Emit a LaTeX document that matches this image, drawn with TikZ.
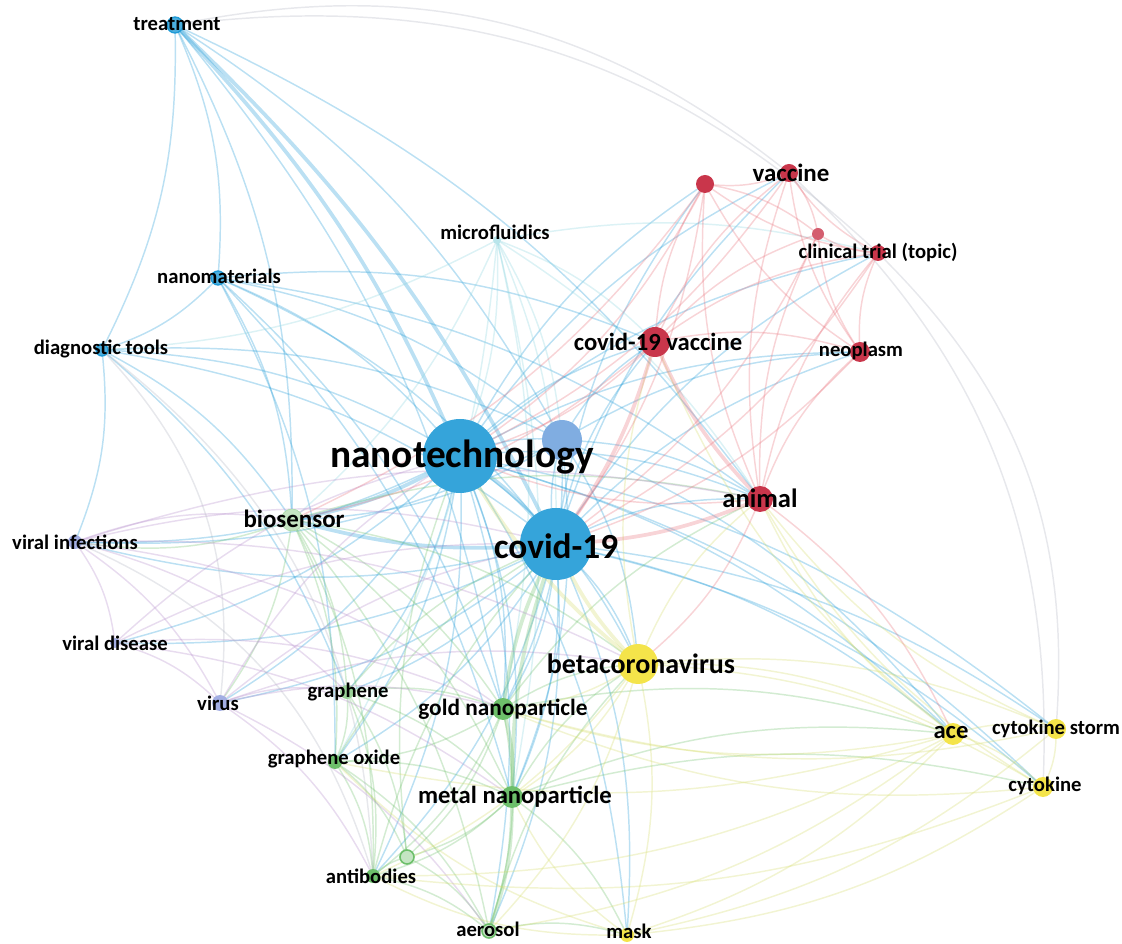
\documentclass[tikz,border=0pt]{standalone}
\usepackage{fontspec}
\setmainfont{Carlito}
\pgfdeclarelayer{bg}
\pgfsetlayers{bg,main}
\definecolor{cB}{HTML}{1E9AD6}
\definecolor{cLB}{HTML}{6A9FDC}
\definecolor{cCy}{HTML}{8AD4DE}
\definecolor{cG}{HTML}{6DBF6A}
\definecolor{cP}{HTML}{A3AEE3}
\definecolor{cPE}{HTML}{B48CCB}
\definecolor{cY}{HTML}{F4E44A}
\definecolor{cYE}{HTML}{D4DC6A}
\definecolor{cR}{HTML}{C9364B}
\definecolor{cRE}{HTML}{E8707A}
\definecolor{cGr}{HTML}{B0B4C0}
\tikzset{
  vdot/.style={circle, inner sep=0, minimum size={1.5*#1 pt}},
  lbl/.style={font=\bfseries\fontsize{#1}{#1}\selectfont, inner sep=0, text=black},
  lnk/.style={draw=#1, opacity=0.3, line width=1.1pt},
  thk/.style={draw=#1, opacity=0.3, line width=2.8pt},
}
\begin{document}
\begin{tikzpicture}[x=0.75pt,y=-0.75pt]
\useasboundingbox (0,0) rectangle (1122,944);
% nodes (circles)
\node[vdot=8, fill=cB!80, draw=cB, line width=1pt] (tr) at (175,25) {};
\node[vdot=7, fill=cB!80, draw=cB, line width=1pt] (nm) at (218,278) {};
\node[vdot=6, fill=cB!80, draw=cB, line width=1pt] (dt) at (102,350) {};
\node[vdot=4, fill=cCy!60] (mf) at (497,240) {};
\node[vdot=37, fill=cB!90] (nt) at (460,456) {};
\node[vdot=20, fill=cLB!85] (bx) at (562,440) {};
\node[vdot=36, fill=cB!90] (cv) at (556,544) {};
\node[vdot=11, fill=cG!40, draw=cG!60] (bs) at (292,520) {};
\node[vdot=7, fill=cP] (vi) at (75,542) {};
\node[vdot=5, fill=cP] (vd) at (115,643) {};
\node[vdot=8, fill=cP] (vr) at (220,703) {};
\node[vdot=7, fill=cG!70] (gr) at (347,692) {};
\node[vdot=11, fill=cG] (gn) at (503,709) {};
\node[vdot=7, fill=cG] (go) at (335,762) {};
\node[vdot=11, fill=cG] (mn) at (512,797) {};
\node[vdot=7, fill=cG] (ab) at (373,876) {};
\node[vdot=7, fill=cG!40, draw=cG, line width=1.2pt] (ar) at (407,857) {};
\node[vdot=7, fill=cG!40, draw=cG, line width=1.2pt] (ae) at (489,931) {};
\node[vdot=7, fill=cY] (mk) at (627,935) {};
\node[vdot=20, fill=cY] (bc) at (638,664) {};
\node[vdot=11, fill=cY] (ac) at (953,734) {};
\node[vdot=10, fill=cY] (cs) at (1056,729) {};
\node[vdot=10, fill=cY] (ck) at (1043,787) {};
\node[vdot=13, fill=cR] (an) at (760,499) {};
\node[vdot=15, fill=cR] (cvv) at (655,342) {};
\node[vdot=10, fill=cR] (np) at (860,352) {};
\node[vdot=8, fill=cR] (ct) at (878,253) {};
\node[vdot=6, fill=cR!80] (cx) at (818,234) {};
\node[vdot=9, fill=cR] (vc) at (789,173) {};
\node[vdot=9, fill=cR] (rx) at (705,184) {};
% labels
\node[lbl=15.5] (Ltr) at (177,24) {treatment};
\node[lbl=15.5] (Lnm) at (219,276) {nanomaterials};
\node[lbl=15.5] (Ldt) at (101,349) {diagnostic tools};
\node[lbl=15.5] (Lmf) at (495,232) {microfluidics};
\node[lbl=29.5] (Lnt) at (462,457) {nanotechnology};
\node[lbl=26.5] (Lcv) at (556,546) {covid-19};
\node[lbl=18.7] (Lbs) at (294,519) {biosensor};
\node[lbl=15.5] (Lvi) at (75,542) {viral infections};
\node[lbl=15.5] (Lvd) at (115,643) {viral disease};
\node[lbl=15.5] (Lvr) at (218,703) {virus};
\node[lbl=15.5] (Lgr) at (348,692) {graphene};
\node[lbl=17.5] (Lgn) at (503,709) {gold nanoparticle};
\node[lbl=15.5] (Lgo) at (334,759) {graphene oxide};
\node[lbl=18.5] (Lmn) at (515,797) {metal nanoparticle};
\node[lbl=15.5] (Lab) at (371,876) {antibodies};
\node[lbl=15.5] (Lae) at (488,929) {aerosol};
\node[lbl=15.5] (Lmk) at (629,931) {mask};
\node[lbl=21] (Lbc) at (641,664) {betacoronavirus};
\node[lbl=18.5] (Lac) at (951,732) {ace};
\node[lbl=15.5] (Lcs) at (1056,729) {cytokine storm};
\node[lbl=15.5] (Lck) at (1045,786) {cytokine};
\node[lbl=19.9] (Lan) at (760,498) {animal};
\node[lbl=18.5] (Lcvv) at (658,342) {covid-19 vaccine};
\node[lbl=15.5] (Lnp) at (861,351) {neoplasm};
\node[lbl=15.5] (Lct) at (878,252) {clinical trial (topic)};
\node[lbl=18.7] (Lvc) at (791,173) {vaccine};
% edges
\begin{pgfonlayer}{bg}
\foreach \a/\b in {tr/nm,tr/bx,tr/bs,tr/an,tr/gn,tr/dt,nm/nt,nm/cv,nm/dt,nm/bs,nm/gn,nm/mn,nm/bx,nm/cvv,nm/an,nm/go,
  dt/nt,dt/cv,dt/bs,dt/vi,dt/bx,dt/gr,
  nt/bx,nt/vi,nt/vd,nt/vr,nt/gr,nt/gn,nt/go,nt/mn,nt/ab,nt/ae,nt/mk,nt/bc,nt/ac,nt/cs,nt/ck,nt/an,nt/cvv,nt/np,nt/ct,nt/vc,nt/rx,
  cv/bx,cv/vi,cv/vd,cv/vr,cv/gr,cv/gn,cv/go,cv/mn,cv/ab,cv/ae,cv/mk,cv/bc,cv/ac,cv/cs,cv/ck,cv/an,cv/cvv,cv/np,cv/ct,cv/vc,cv/rx,
  bx/cvv,bx/an,bx/bc,bx/gn,bx/mn,bx/bs,bx/vi,bx/ac,bx/np}
  \draw[lnk=cB] (\a.center) to[bend left=14] (\b.center);
\foreach \a/\b in {tr/nt,tr/cv,nt/cv,nt/bs,cv/bs}
  \draw[thk=cB] (\a.center) to[bend left=10] (\b.center);
\foreach \a/\b in {mf/nt,mf/cv,mf/bs,mf/gn,mf/mn,mf/bx,mf/go,mf/ct,mf/an,mf/cvv,mf/dt}
  \draw[lnk=cCy] (\a.center) to[bend left=12] (\b.center);
\foreach \a/\b in {bs/gr,bs/go,bs/gn,bs/mn,bs/ab,bs/vi,bs/vr,bs/bc,bs/an,bs/ae,gr/go,gr/gn,gr/mn,gr/ab,gr/ar,
  gn/bc,gn/ab,gn/ae,gn/ar,gn/go,gn/an,gn/ac,go/mn,go/ab,go/ar,go/ae,mn/ab,mn/ar,mn/bc,mn/ac,mn/ck,mn/mk,
  ab/ar,ab/ae,ar/ae,ae/bc,ae/mk,gr/cv,go/cv,ab/cv,ar/nt}
  \draw[lnk=cG] (\a.center) to[bend left=14] (\b.center);
\foreach \a/\b in {gn/mn,mn/ae,gn/cv,mn/cv}
  \draw[thk=cG] (\a.center) to[bend left=10] (\b.center);
\foreach \a/\b in {vi/vd,vi/vr,vi/bs,vi/gr,vi/gn,vi/an,vi/bc,vd/vr,vd/nt,vd/cv,vd/gn,vd/mn,
  vr/gr,vr/gn,vr/nt,vr/cv,vr/bc,vr/ab,vr/ae,vi/cv}
  \draw[lnk=cPE] (\a.center) to[bend left=14] (\b.center);
\foreach \a/\b in {bc/ac,bc/cs,bc/ck,bc/mk,bc/an,bc/cvv,bc/gn,bc/mn,bc/ab,bc/ae,
  ac/cs,ac/ck,ac/mk,ac/an,ac/ab,ac/ae,ac/gn,ac/go,ac/cvv,cs/ck,cs/an,cs/mk,ck/an,ck/mk,ck/ab,
  mk/mn,mk/ab,mk/go,ck/gn,cs/gn}
  \draw[lnk=cYE] (\a.center) to[bend left=14] (\b.center);
\foreach \a/\b in {bc/cv,bc/nt}
  \draw[thk=cYE] (\a.center) to[bend left=10] (\b.center);
\foreach \a/\b in {an/np,an/ct,an/vc,an/rx,an/cx,an/bc,an/ac,an/nt,
  cvv/np,cvv/ct,cvv/vc,cvv/rx,cvv/cx,cvv/nt,cvv/bs,
  np/ct,np/vc,np/rx,np/cx,ct/vc,ct/rx,ct/cx,vc/rx,vc/cx,rx/cx,rx/nt,rx/cv,rx/bs,vc/nt,ct/cv,cx/cv,np/cv}
  \draw[lnk=cRE] (\a.center) to[bend left=14] (\b.center);
\foreach \a/\b in {an/cvv,an/cv,cvv/cv}
  \draw[thk=cRE] (\a.center) to[bend left=10] (\b.center);
\foreach \a/\b in {tr/ct,dt/vr,ct/cs,vc/ck,tr/vc,vi/ab,dt/ab}
  \draw[lnk=cGr] (\a.center) to[bend left=25] (\b.center);
\end{pgfonlayer}
\end{tikzpicture}
\end{document}
